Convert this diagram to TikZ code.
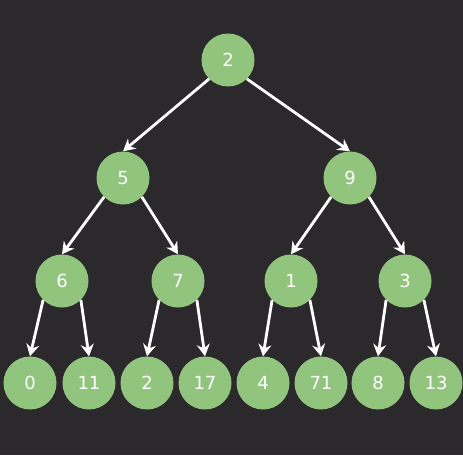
\documentclass[tikz,border=0pt]{standalone}
\usepackage{fontspec}
\setmainfont{DejaVu Sans}
\usetikzlibrary{arrows.meta}
\definecolor{bgdark}{RGB}{43,41,44}
\definecolor{nodegreen}{RGB}{145,196,125}
\tikzset{
  treenode/.style={circle, fill=nodegreen, draw=none, minimum size=53pt, inner sep=0pt,
    text=white, font=\fontsize{18}{18}\selectfont},
  edge/.style={draw=white, line width=2.8pt, -{Stealth[length=12pt, width=13pt, inset=4pt]}}
}
\begin{document}
\begin{tikzpicture}[x=1pt, y=-1pt]
\fill[bgdark] (0,0) rectangle (463,455);
\useasboundingbox (0,0) rectangle (463,455);
\node[treenode] (n2) at (228,60) {2};
\node[treenode] (n5) at (123,178) {5};
\node[treenode] (n9) at (350,178) {9};
\node[treenode] (n6) at (62,281) {6};
\node[treenode] (n7) at (178,281) {7};
\node[treenode] (n1) at (291,281) {1};
\node[treenode] (n3) at (405,281) {3};
\node[treenode] (l0) at (30,383) {0};
\node[treenode] (l11) at (89,383) {11};
\node[treenode] (l2) at (147,383) {2};
\node[treenode] (l17) at (205,383) {17};
\node[treenode] (l4) at (263,383) {4};
\node[treenode] (l71) at (321,383) {71};
\node[treenode] (l8) at (378,383) {8};
\node[treenode] (l13) at (436,383) {13};
\draw[edge] (n2.south west) -- (n5.north);
\draw[edge] (n2.south east) -- (n9.north);
\draw[edge] (n5.south west) -- (n6.north);
\draw[edge] (n5.south east) -- (n7.north);
\draw[edge] (n9.south west) -- (n1.north);
\draw[edge] (n9.south east) -- (n3.north);
\draw[edge] (n6.south west) -- (l0.north);
\draw[edge] (n6.south east) -- (l11.north);
\draw[edge] (n7.south west) -- (l2.north);
\draw[edge] (n7.south east) -- (l17.north);
\draw[edge] (n1.south west) -- (l4.north);
\draw[edge] (n1.south east) -- (l71.north);
\draw[edge] (n3.south west) -- (l8.north);
\draw[edge] (n3.south east) -- (l13.north);
\end{tikzpicture}
\end{document}
